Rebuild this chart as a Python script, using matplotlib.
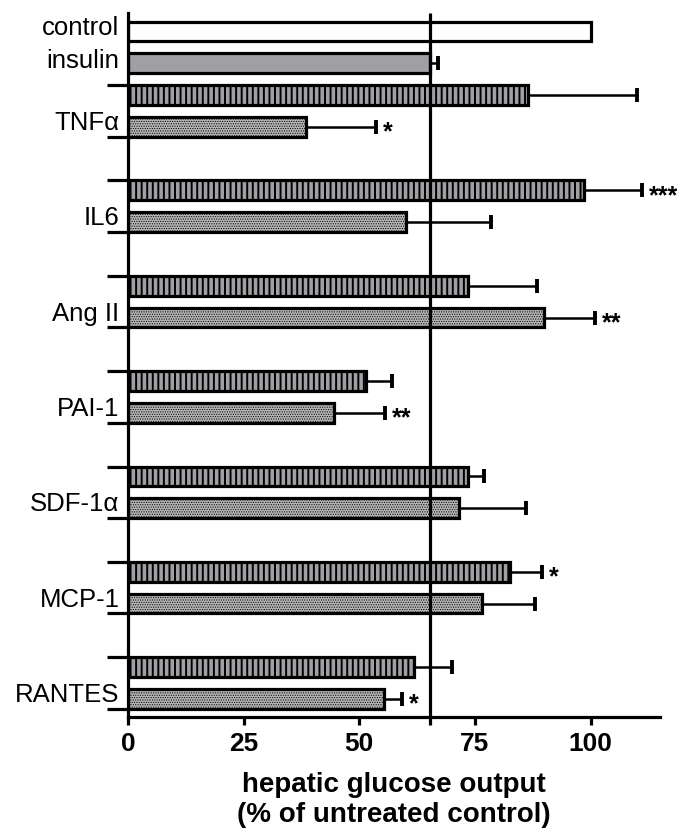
import numpy as np
import matplotlib
matplotlib.use('Agg')
import matplotlib.pyplot as plt

plt.rcParams['font.family'] = ['Liberation Sans', 'DejaVu Sans']

# hepatic glucose output, % of untreated control
control_value = 100.0
insulin_value = 65.3
insulin_err = 1.7

cytokines = ['TNF\u03b1', 'IL6', 'Ang II', 'PAI-1', 'SDF-1\u03b1', 'MCP-1', 'RANTES']
striped_values = [86.5, 98.5, 73.5, 51.5, 73.5, 82.5, 61.8]
striped_err = [23.5, 12.5, 15.0, 5.5, 3.5, 7.0, 8.2]
striped_stars = ['', '***', '', '', '', '*', '']
dotted_values = [38.5, 60.0, 90.0, 44.5, 71.5, 76.5, 55.3]
dotted_err = [15.0, 18.5, 11.0, 11.0, 14.5, 11.5, 4.0]
dotted_stars = ['*', '', '**', '**', '', '', '*']

BAR_H = 0.62
EDGE_LW = 2.3


def add_stars(ax, ys, vals, errs, stars):
    for y, v, e, s in zip(ys, vals, errs, stars):
        if s:
            ax.annotate(s, (v + e, y), xytext=(5, -4), textcoords='offset points',
                        ha='left', va='center', fontsize=18, fontweight='bold')


def plot(dest):
    fig = plt.figure(figsize=(6.77, 8.30), dpi=100)
    ax = fig.add_axes([0.189, 0.136, 0.786, 0.848])

    n = len(cytokines)
    y_striped = np.arange(n) * 3 + 2
    y_dotted = y_striped + 1

    ax.barh([0], [control_value], height=BAR_H, color='white',
            edgecolor='black', linewidth=EDGE_LW, zorder=2)
    ax.barh([1], [insulin_value], height=BAR_H, color='#a0a0a4',
            edgecolor='black', linewidth=EDGE_LW, zorder=2)
    ax.errorbar([insulin_value], [1], xerr=[[0], [insulin_err]], fmt='none',
                ecolor='black', elinewidth=1.8, capsize=5, capthick=2.8, zorder=1)

    plt.rcParams['hatch.linewidth'] = 1.4
    ax.barh(y_striped, striped_values, height=BAR_H, color='#a0a0a4',
            edgecolor='black', linewidth=EDGE_LW, hatch='|||', zorder=2)
    plt.rcParams['hatch.linewidth'] = 0.5
    ax.barh(y_dotted, dotted_values, height=BAR_H, color='#b4b4b4',
            edgecolor='black', linewidth=EDGE_LW, hatch='.......', zorder=2)

    zeros = np.zeros(n)
    ax.errorbar(striped_values, y_striped, xerr=[zeros, striped_err], fmt='none',
                ecolor='black', elinewidth=1.8, capsize=5, capthick=2.8, zorder=1)
    ax.errorbar(dotted_values, y_dotted, xerr=[zeros, dotted_err], fmt='none',
                ecolor='black', elinewidth=1.8, capsize=5, capthick=2.8, zorder=1)
    add_stars(ax, y_striped, striped_values, striped_err, striped_stars)
    add_stars(ax, y_dotted, dotted_values, dotted_err, dotted_stars)

    # insulin reference line
    ax.vlines(insulin_value, -0.57, 21.82, color='black', linewidth=2.3,
              zorder=3, clip_on=False)

    ax.set_xlim(0, 115)
    ax.set_ylim(21.57, -0.57)
    for side in ['top', 'right']:
        ax.spines[side].set_visible(False)
    for side in ['left', 'bottom']:
        ax.spines[side].set_linewidth(2.3)

    ax.set_xticks([0, 25, 50, 75, 100])
    ax.tick_params(axis='x', length=6, width=2.3, labelsize=19, pad=5)
    for lab in ax.get_xticklabels():
        lab.set_fontweight('bold')

    edges = []
    for ys, yd in zip(y_striped, y_dotted):
        edges += [ys - BAR_H / 2, yd + BAR_H / 2]
    ax.set_yticks(edges)
    ax.set_yticklabels([])
    ax.tick_params(axis='y', which='major', length=15, width=2.3)
    label_pos = [-0.2, 0.85] + list((y_striped + y_dotted) / 2.0 + 0.3)
    ax.set_yticks(label_pos, minor=True)
    ax.set_yticklabels(['control', 'insulin'] + cytokines, minor=True, fontsize=18.5)
    ax.tick_params(axis='y', which='minor', length=0, pad=6)

    ax.set_xlabel('hepatic glucose output\n(% of untreated control)',
                  fontsize=20, fontweight='bold', labelpad=11, linespacing=1.2)

    fig.savefig(dest, dpi=100)


if __name__ == '__main__':
    plot('out.png')
